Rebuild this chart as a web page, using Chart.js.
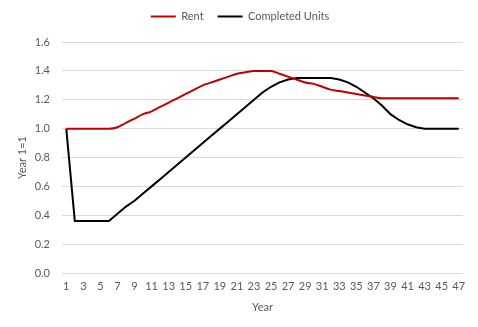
<!DOCTYPE html>
<html>
<head>
<meta charset="utf-8">
<script src="https://cdn.jsdelivr.net/npm/chart.js@4"></script>
<style>
  html, body { margin: 0; padding: 0; background: #ffffff; }
  #wrap { width: 478px; height: 327px; position: relative; }
</style>
</head>
<body>
<div id="wrap"><canvas id="chart"></canvas></div>
<script>
// Year index (1 = first year)
const years = ['1','2','3','4','5','6','7','8','9','10','11','12','13','14','15','16',
  '17','18','19','20','21','22','23','24','25','26','27','28','29','30','31','32',
  '33','34','35','36','37','38','39','40','41','42','43','44','45','46','47'];

// Rent, indexed to year 1
const rent = [1.00, 1.00, 1.00, 1.00, 1.00, 1.00, 1.01, 1.04, 1.07, 1.10, 1.12, 1.15,
  1.18, 1.21, 1.24, 1.27, 1.30, 1.32, 1.34, 1.36, 1.38, 1.39, 1.40, 1.40, 1.40, 1.38,
  1.36, 1.34, 1.32, 1.31, 1.29, 1.27, 1.26, 1.25, 1.24, 1.23, 1.22, 1.21, 1.21, 1.21,
  1.21, 1.21, 1.21, 1.21, 1.21, 1.21, 1.21];

// Completed units, indexed to year 1
const completedUnits = [1.00, 0.36, 0.36, 0.36, 0.36, 0.36, 0.41, 0.46, 0.50, 0.55,
  0.60, 0.65, 0.70, 0.75, 0.80, 0.85, 0.90, 0.95, 1.00, 1.05, 1.10, 1.15, 1.20, 1.25,
  1.29, 1.32, 1.34, 1.35, 1.35, 1.35, 1.35, 1.35, 1.34, 1.32, 1.29, 1.25, 1.21, 1.16,
  1.10, 1.06, 1.03, 1.01, 1.00, 1.00, 1.00, 1.00, 1.00];

const yTicks = { min: 0, max: 1.6, step: 0.2 };

const textColor = '#595959';
const gridColor = '#d9d9d9';
const baseFont = { family: 'Lato, "Liberation Sans", sans-serif', size: 11 };

// taller legend box so the plot starts lower
const legendHeight = {
  id: 'legendHeight',
  beforeInit(chart) {
    const fit = chart.legend.fit;
    chart.legend.fit = function () {
      fit.bind(chart.legend)();
      this.height = 45;
    };
  }
};

const ctx = document.getElementById('chart').getContext('2d');
new Chart(ctx, {
  type: 'line',
  data: {
    labels: years,
    datasets: [
      {
        label: 'Rent',
        data: rent,
        borderColor: '#c00000',
        backgroundColor: '#c00000',
        borderWidth: 2,
        pointRadius: 0,
        cubicInterpolationMode: 'monotone',
        fill: false
      },
      {
        label: 'Completed Units',
        data: completedUnits,
        borderColor: '#000000',
        backgroundColor: '#000000',
        borderWidth: 2,
        pointRadius: 0,
        tension: 0,
        fill: false
      }
    ]
  },
  options: {
    responsive: true,
    maintainAspectRatio: false,
    animation: false,
    layout: { padding: { left: 17, right: 15, top: -3, bottom: 0 } },
    plugins: {
      legend: {
        position: 'top',
        align: 'center',
        labels: {
          usePointStyle: true,
          pointStyle: 'line',
          pointStyleWidth: 25,
          boxHeight: 11,
          padding: 14,
          color: textColor,
          font: baseFont
        }
      },
      tooltip: { enabled: false }
    },
    scales: {
      x: {
        offset: true,
        grid: { display: false, drawTicks: false },
        border: { display: false },
        ticks: {
          autoSkip: false,
          maxRotation: 0,
          minRotation: 0,
          padding: 7,
          color: textColor,
          font: baseFont,
          callback: function (value, index) {
            return index % 2 === 0 ? this.getLabelForValue(value) : '';
          }
        },
        title: {
          display: true,
          text: 'Year',
          color: textColor,
          font: baseFont,
          padding: { top: 0, bottom: 13 }
        },
        afterFit(scale) { scale.height = 54; }
      },
      y: {
        min: yTicks.min,
        max: yTicks.max,
        grid: { color: gridColor, drawTicks: false, lineWidth: 1 },
        border: { display: false },
        ticks: {
          stepSize: yTicks.step,
          padding: 12,
          color: textColor,
          font: baseFont,
          callback: (v) => Number(v).toFixed(1)
        },
        title: {
          display: true,
          text: 'Year 1=1',
          color: textColor,
          font: baseFont,
          padding: { top: -1, bottom: 0 }
        },
        afterFit(scale) { scale.width = 45; }
      }
    }
  },
  plugins: [legendHeight]
});
</script>
</body>
</html>
